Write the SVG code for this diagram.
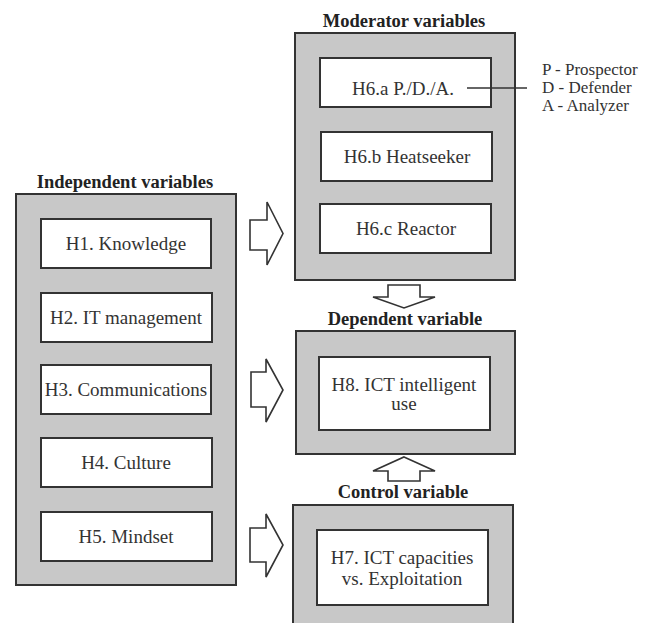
<svg xmlns="http://www.w3.org/2000/svg" width="651" height="623" viewBox="0 0 651 623">
<style>
.outer{fill:#c8c8c8;stroke:#333;stroke-width:2}
.inner{fill:#fff;stroke:#333;stroke-width:2}
.t{font-family:"Liberation Serif","Times New Roman",serif;font-size:19px;fill:#333;text-anchor:middle}
.h{font-family:"Liberation Serif","Times New Roman",serif;font-size:18.5px;font-weight:bold;fill:#222;text-anchor:middle}
.lg{font-family:"Liberation Serif","Times New Roman",serif;font-size:17px;fill:#333}
.arr{fill:#fff;stroke:#333;stroke-width:1.6;stroke-linejoin:miter}
</style>
<rect width="651" height="623" fill="#fff"/>
<g id="independent">
<text class="h" x="125" y="188">Independent variables</text>
<rect class="outer" x="16" y="194" width="220" height="391"/>
</g>
<g id="h1"><rect class="inner" x="41" y="219" width="170" height="49"/><text class="t" x="126" y="250">H1. Knowledge</text></g>
<g id="h2"><rect class="inner" x="41" y="293" width="171" height="49"/><text class="t" x="126" y="324">H2. IT management</text></g>
<g id="h3"><rect class="inner" x="41" y="365" width="170" height="49"/><text class="t" x="126" y="396">H3. Communications</text></g>
<g id="h4"><rect class="inner" x="41" y="438" width="171" height="49"/><text class="t" x="126" y="469">H4. Culture</text></g>
<g id="h5"><rect class="inner" x="41" y="512" width="171" height="49"/><text class="t" x="126" y="543">H5. Mindset</text></g>
<g id="moderator">
<text class="h" x="404" y="27">Moderator variables</text>
<rect class="outer" x="295" y="33" width="220" height="247"/>
</g>
<g id="h6a"><rect class="inner" x="320" y="58" width="171" height="49"/><text class="t" x="403" y="95">H6.a P./D./A.</text></g>
<g id="h6b"><rect class="inner" x="321" y="132" width="171" height="49"/><text class="t" x="407" y="163">H6.b Heatseeker</text></g>
<g id="h6c"><rect class="inner" x="320" y="204" width="171" height="49"/><text class="t" x="406" y="235">H6.c Reactor</text></g>
<g id="legend">
<text class="lg" x="542" y="75">P - Prospector</text>
<text class="lg" x="542" y="93">D - Defender</text>
<text class="lg" x="542" y="111">A - Analyzer</text>
</g>
<g id="dependent">
<text class="h" x="405" y="325">Dependent variable</text>
<rect class="outer" x="296" y="331" width="219" height="123"/>
</g>
<g id="h8"><rect class="inner" x="319" y="357" width="171" height="73"/><text class="t" x="404" y="391">H8. ICT intelligent</text><text class="t" x="404" y="410">use</text></g>
<g id="control">
<text class="h" x="403" y="498">Control variable</text>
<rect class="outer" x="293" y="505" width="220" height="130"/>
</g>
<g id="h7"><rect class="inner" x="317" y="530" width="171" height="75"/><text class="t" x="402" y="564">H7. ICT capacities</text><text class="t" x="402" y="585">vs. Exploitation</text></g>
<g id="connectors">
<line x1="467" y1="88" x2="527" y2="88" stroke="#333" stroke-width="1.6"/>
<polygon class="arr" points="250,220 267,220 267,202 283,233.5 267,265 267,250 250,250"/>
<polygon class="arr" points="251,372 266,372 266,359 283,390 266,422 266,407 251,407"/>
<polygon class="arr" points="250,528 266,528 266,514 283,545 266,577 266,562 250,562"/>
<polygon class="arr" points="388,285 420,285 420,297 435,297 404,308 373,297 388,297"/>
<polygon class="arr" points="404,457 435,471 420,471 420,481 388,481 388,471 373,471"/>
</g>
</svg>
